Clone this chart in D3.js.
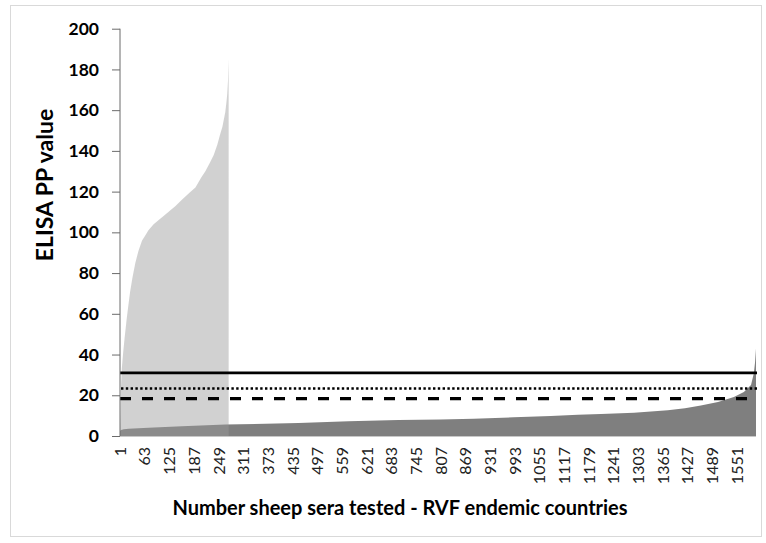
<!DOCTYPE html>
<html>
<head>
<meta charset="utf-8">
<script src="https://cdn.jsdelivr.net/npm/d3@7"></script>
<style>
  html, body { margin: 0; padding: 0; background: #fff; }
  svg { display: block; }
</style>
</head>
<body>
<svg id="chart" width="766" height="543"></svg>
<script>
// ---- Data ----
const sampleCount = 1598;
const xTickLabels = [1, 63, 125, 187, 249, 311, 373, 435, 497, 559, 621, 683, 745, 807, 869, 931, 993, 1055, 1117, 1179, 1241, 1303, 1365, 1427, 1489, 1551];
const yTickValues = [0, 20, 40, 60, 80, 100, 120, 140, 160, 180, 200];

// Positive sera (light gray), sorted: [sample number, PP value]
const positiveSeries = [
  [1, 3], [2, 14], [3, 24], [5, 33], [8, 40], [12, 48], [17, 57], [22, 65], [26, 71],
  [32, 78], [39, 85], [47, 91], [56, 96], [64, 98.5], [72, 101], [85, 104], [97, 106],
  [110, 108], [122, 110], [140, 113], [156, 116], [175, 119.5], [190, 122], [205, 127],
  [215, 130], [226, 134], [236, 138], [245, 143], [252, 148], [258, 152], [261, 155],
  [265, 159], [268, 164], [270, 168], [272, 175], [273, 185]
];

// All sera (dark gray), sorted: [sample number, PP value]
const allSeries = [
  [1, 2.5], [3, 2.9], [10, 3.3], [22, 3.6], [72, 4.1], [156, 4.8], [265, 5.6], [449, 6.4],
  [575, 7.2], [700, 7.8], [806, 8.1], [889, 8.5], [990, 9.2], [1083, 9.8], [1151, 10.4],
  [1209, 10.8], [1292, 11.4], [1377, 12.6], [1420, 13.6], [1460, 15], [1503, 16.7],
  [1543, 19.2], [1568, 21.6], [1586, 25], [1593, 30.7], [1596, 36], [1598, 43]
];

// Cut-off lines
const cutoffSolid = 31;
const cutoffDotted = 23.3;
const cutoffDashed = 18.4;

const xTitle = "Number sheep sera tested - RVF endemic countries";
const yTitle = "ELISA PP value";

// ---- Drawing ----
const svg = d3.select("#chart");
const margin = { left: 120, right: 756, top: 28.7, bottom: 436 };

const categories = d3.range(1, sampleCount + 1);
const x = d3.scaleBand().domain(categories).range([margin.left, margin.right]).paddingInner(0).paddingOuter(0);
const y = d3.scaleLinear().domain([0, 200]).range([margin.bottom, margin.top]);
const bw = x.bandwidth();

// outer border
svg.append("rect")
  .attr("x", 10.5).attr("y", 5.5).attr("width", 751).attr("height", 531)
  .attr("fill", "none").attr("stroke", "#d9d9d9").attr("stroke-width", 1);

function areaFor(series) {
  const last = series.length - 1;
  return d3.area()
    .x((d, i) => i === 0 ? x(d[0]) : (i === last ? x(d[0]) + bw : x(d[0]) + bw / 2))
    .y0(y(0))
    .y1(d => y(d[1]))
    .curve(d3.curveLinear)(series);
}

// x axis baseline
svg.append("line")
  .attr("x1", margin.left).attr("x2", margin.right)
  .attr("y1", y(0) + 0.5).attr("y2", y(0) + 0.5)
  .attr("stroke", "#c8c8c8").attr("stroke-width", 1);

// dark series (all sera)
svg.append("path").attr("d", areaFor(allSeries)).attr("fill", "#7f7f7f");
// light series (positive sera), semi-transparent over the dark one
svg.append("path").attr("d", areaFor(positiveSeries)).attr("fill", "#9a9a9a").attr("fill-opacity", 0.46);

// cut-off lines
const lineX1 = margin.left, lineX2 = margin.right + 1;
svg.append("line")
  .attr("x1", lineX1).attr("x2", lineX2).attr("y1", y(cutoffSolid)).attr("y2", y(cutoffSolid))
  .attr("stroke", "#000").attr("stroke-width", 2.7);
svg.append("line")
  .attr("x1", lineX1 + 1).attr("x2", lineX2).attr("y1", y(cutoffDotted)).attr("y2", y(cutoffDotted))
  .attr("stroke", "#000").attr("stroke-width", 2.5).attr("stroke-dasharray", "2.4,2.4");
svg.append("line")
  .attr("x1", lineX1).attr("x2", lineX2).attr("y1", y(cutoffDashed)).attr("y2", y(cutoffDashed))
  .attr("stroke", "#000").attr("stroke-width", 3.2).attr("stroke-dasharray", "11,11");

// y axis
const yAxis = d3.axisLeft(y).tickValues(yTickValues).tickSize(8).tickPadding(13).tickFormat(d3.format("d"));
const gy = svg.append("g").attr("transform", `translate(${margin.left},0)`).call(yAxis);
gy.select(".domain").attr("stroke", "#6b6b6b").attr("d", `M0,${y(200)}V${y(0)}`);
gy.selectAll(".tick line").attr("stroke", "#6b6b6b");
gy.selectAll(".tick text")
  .attr("font-family", "Lato, 'Open Sans', sans-serif")
  .attr("font-weight", "bold").attr("font-size", 17.5).attr("fill", "#000");

// x tick labels
const gx = svg.append("g");
gx.selectAll("text").data(xTickLabels).join("text")
  .attr("transform", d => `translate(${x(d) + bw / 2},447) rotate(-90)`)
  .attr("text-anchor", "end")
  .attr("dy", "0.35em")
  .attr("font-family", "Lato, 'Open Sans', sans-serif")
  .attr("font-size", 16).attr("fill", "#222")
  .text(d => d);

// axis titles
svg.append("text")
  .attr("x", 400).attr("y", 515)
  .attr("text-anchor", "middle")
  .attr("font-family", "Lato, 'Open Sans', sans-serif")
  .attr("font-weight", "bold").attr("font-size", 20).attr("fill", "#000")
  .text(xTitle);

svg.append("text")
  .attr("transform", "translate(53,185) rotate(-90)")
  .attr("text-anchor", "middle")
  .attr("font-family", "Lato, 'Open Sans', sans-serif")
  .attr("font-weight", "bold").attr("font-size", 23).attr("fill", "#000")
  .text(yTitle);
</script>
</body>
</html>
